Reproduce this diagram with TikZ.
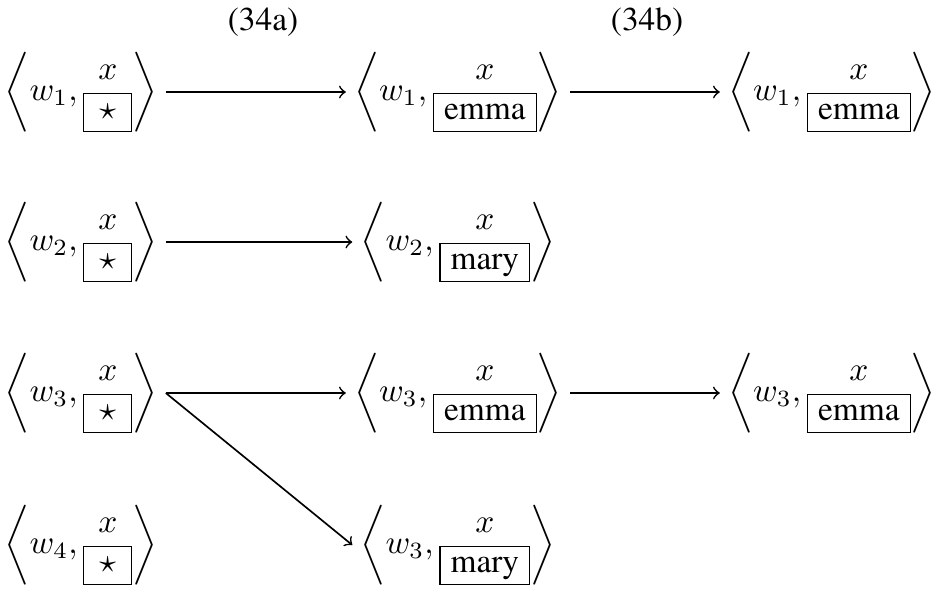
\documentclass[tikz,border=0pt]{standalone}
\usepackage[T1]{fontenc}
\usepackage{times}

% a filled slot: framed value of fixed height, descenders smashed
\newcommand\slotbox[1]{\fbox{\rule[-0.3pt]{0pt}{5pt}\smash{#1}}}
% the empty slot
\newcommand\blank{\makebox[8pt]{$\star$}}
% a world/assignment pair
\newcommand\wpair[2]{$\left\langle w_{#1},\begin{array}{@{}c@{}} x\\ \slotbox{#2}\end{array}\right\rangle$}

\begin{document}
\begin{tikzpicture}[x=0.3pt,y=-0.3pt,
  pair/.style={inner sep=0pt,outer sep=0pt},
  link/.style={->,line width=0.5pt,shorten <=2.5pt,shorten >=2.5pt},
  fork/.style={->,line width=0.5pt,shorten >=0pt}]
\useasboundingbox (0,0) rectangle (939,592);

% column headings
\node[anchor=base] (ha) at (263,30) {(34a)};
\node[anchor=base] (hb) at (647,30) {(34b)};

% first column: unassigned
\node[pair] (s11) at (81,92)  {\wpair{1}{\blank}};
\node[pair] (s21) at (81,242) {\wpair{2}{\blank}};
\node[pair] (s31) at (81,393) {\wpair{3}{\blank}};
\node[pair] (s41) at (81,545) {\wpair{4}{\blank}};

% second column
\node[pair] (s12) at (458,92)  {\wpair{1}{emma}};
\node[pair] (s22) at (458,242) {\wpair{2}{mary}};
\node[pair] (s32) at (458,393) {\wpair{3}{emma}};
\node[pair] (s42) at (458,545) {\wpair{3}{mary}};

% third column
\node[pair] (s13) at (832,92)  {\wpair{1}{emma}};
\node[pair] (s33) at (832,393) {\wpair{3}{emma}};

% transitions
\draw[link] (s11) -- (s12);
\draw[link] (s12) -- (s13);
\draw[link] (s21) -- (s22);
\draw[link] (s32) -- (s33);

\coordinate (split) at ([xshift=2.5pt]s31.east);
\coordinate (s42in) at ([xshift=-2.5pt]s42.west);
\draw[link,shorten <=0pt] (split) -- (s32);
\draw[fork] (split) -- (s42in);
\end{tikzpicture}
\end{document}
